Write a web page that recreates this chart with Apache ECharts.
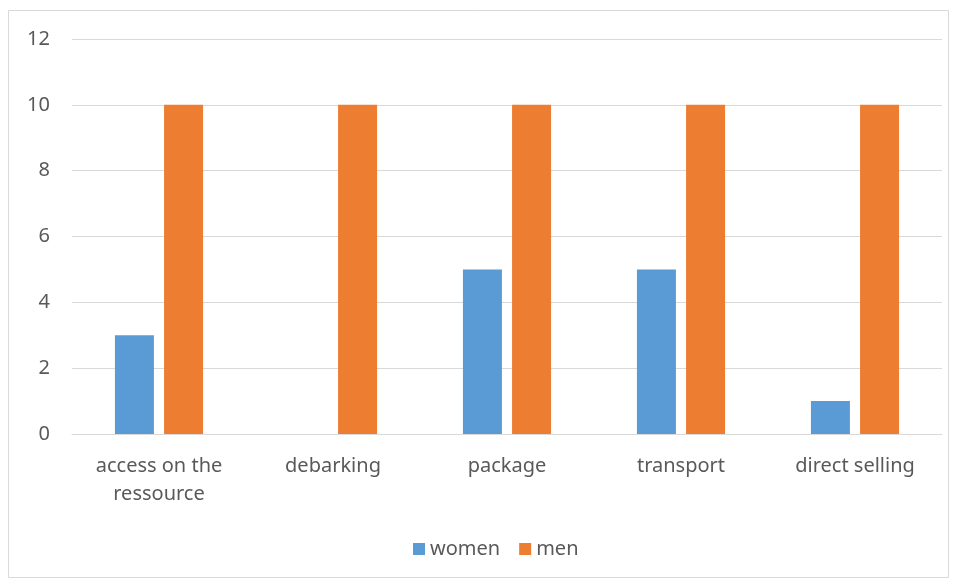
<!DOCTYPE html>
<html>
<head>
<meta charset="utf-8">
<script src="https://cdn.jsdelivr.net/npm/echarts@6/dist/echarts.min.js"></script>
<style>
html,body{margin:0;padding:0;background:#fff;}
#chart{width:956px;height:582px;}
</style>
</head>
<body>
<div id="chart"></div>
<script>
const categories = ['access on the\nressource', 'debarking', 'package', 'transport', 'direct selling'];
const women = [3, 0, 5, 5, 1];
const men = [10, 10, 10, 10, 10];
const seriesNames = ['women', 'men'];

const chart = echarts.init(document.getElementById('chart'));
const font = 'Noto Sans';
chart.setOption({
  animation: false,
  graphic: [{
    type: 'rect',
    shape: {x: 8.5, y: 10.5, width: 940, height: 567},
    style: {fill: 'none', stroke: '#d9d9d9', lineWidth: 1},
    silent: true
  }],
  grid: {left: 72, right: 14, top: 39, bottom: 148, containLabel: false},
  legend: {
    data: seriesNames,
    left: 408,
    top: 534,
    itemWidth: 12,
    itemHeight: 12,
    itemGap: 19,
    icon: 'rect',
    textStyle: {color: '#595959', fontSize: 20, fontFamily: font}
  },
  xAxis: {
    type: 'category',
    data: categories,
    axisLine: {lineStyle: {color: '#d9d9d9', width: 1}},
    axisTick: {show: false},
    axisLabel: {color: '#595959', fontSize: 20, fontFamily: font, margin: 18, lineHeight: 28, interval: 0}
  },
  yAxis: {
    type: 'value',
    min: 0,
    max: 12,
    interval: 2,
    axisLine: {show: false},
    axisTick: {show: false},
    splitLine: {lineStyle: {color: '#d9d9d9', width: 1}},
    axisLabel: {color: '#595959', fontSize: 20, fontFamily: font, margin: 22}
  },
  series: [
    {name: seriesNames[0], type: 'bar', data: women, barWidth: 39, barGap: '26%', itemStyle: {color: '#5B9BD5'}},
    {name: seriesNames[1], type: 'bar', data: men, barWidth: 39, barGap: '26%', itemStyle: {color: '#ED7D31'}}
  ]
});
</script>
</body>
</html>
